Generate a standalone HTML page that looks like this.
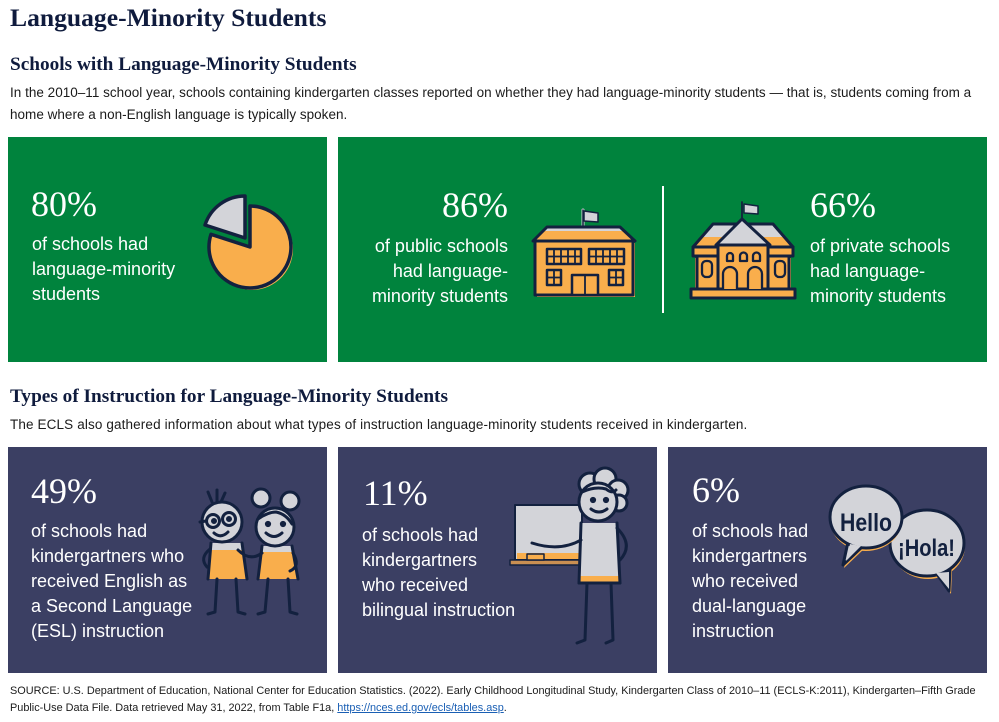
<!DOCTYPE html>
<html>
<head>
<meta charset="utf-8">
<style>
  html,body{margin:0;padding:0;background:#fff;}
  body{width:999px;height:722px;position:relative;overflow:hidden;font-family:"Liberation Sans",sans-serif;}
  .abs{position:absolute;white-space:nowrap;}
  .serif{font-family:"Liberation Serif",serif;}
  .h1{left:10px;top:5px;font-size:25.6px;line-height:25px;font-weight:bold;color:#0f1b3d;}
  .h2{left:10px;font-size:19.3px;line-height:19px;font-weight:bold;color:#0f1b3d;}
  .p{left:10px;font-size:13.5px;line-height:22px;color:#1b1b1b;}
  .box{position:absolute;}
  .green{background:#00833d;}
  .navy{background:#3b3f63;}
  .big{font-family:"Liberation Serif",serif;font-size:36px;line-height:40px;color:#fff;}
  .txt{font-size:18px;line-height:25px;color:#fff;}
  .foot{left:10px;font-size:10.9px;line-height:17px;color:#1b1b1b;}
  a{color:#1a5fb4;text-decoration:underline;}
</style>
</head>
<body>
<div class="abs serif h1">Language-Minority Students</div>
<div class="abs serif h2" style="top:55px;">Schools with Language-Minority Students</div>
<div class="abs p" style="top:82px;letter-spacing:0.02px;">In the 2010–11 school year, schools containing kindergarten classes reported on whether they had language-minority students — that is, students coming from a</div>
<div class="abs p" style="top:104px;letter-spacing:0.02px;">home where a non-English language is typically spoken.</div>

<div class="box green" style="left:8px;top:137px;width:319px;height:225px;"></div>
<div class="box green" style="left:338px;top:137px;width:649px;height:225px;"></div>

<div class="abs serif h2" style="top:387px;">Types of Instruction for Language-Minority Students</div>
<div class="abs p" style="top:414px;letter-spacing:0.13px;">The ECLS also gathered information about what types of instruction language-minority students received in kindergarten.</div>

<div class="box navy" style="left:8px;top:447px;width:319px;height:226px;"></div>
<div class="box navy" style="left:338px;top:447px;width:319px;height:226px;"></div>
<div class="box navy" style="left:668px;top:447px;width:319px;height:226px;"></div>

<svg class="abs" style="left:0;top:0;" width="999" height="722" viewBox="0 0 999 722" xmlns="http://www.w3.org/2000/svg">
  <g stroke-linejoin="round" stroke-linecap="round">
  <!-- Pie -->
  <path d="M252,249 L252,208 A41,41 0 1 1 213,236.3 Z" fill="#f9ae4c"/>
  <path d="M250,247 L250,206 A41,41 0 1 1 211,234.3 Z" fill="#f9ae4c" stroke="#13213f" stroke-width="3.5"/>
  <path d="M245,238 L245,196 A42,42 0 0 0 205,225 Z" fill="#d3d4d9" stroke="#13213f" stroke-width="3.5"/>

  <!-- Public school -->
  <line x1="583" y1="226" x2="583" y2="210" stroke="#d3d4d9" stroke-width="3"/>
  <line x1="583" y1="226" x2="583" y2="210" stroke="#13213f" stroke-width="1.5"/>
  <path d="M584,211 L598,213 L598,222 L584,221 Z" fill="#d3d4d9" stroke="#13213f" stroke-width="1.5"/>
  <path d="M547,227 L620,227 L635,241 L533,241 Z" fill="#f9ae4c"/>
  <path d="M547,227 L620,227 L624,231 L543,231 Z" fill="#d3d4d9"/>
  <path d="M547,227 L620,227 L635,241 L533,241 Z" fill="none" stroke="#13213f" stroke-width="3"/>
  <rect x="537" y="243" width="98" height="54" fill="#f9ae4c"/>
  <rect x="535" y="241" width="98" height="54" fill="#f9ae4c" stroke="#13213f" stroke-width="3"/>
  <g fill="#f9ae4c" stroke="#13213f" stroke-width="2.5">
    <rect x="547" y="249" width="34" height="15"/>
    <rect x="589" y="249" width="35" height="15"/>
    <rect x="547" y="270" width="14" height="15"/>
    <rect x="609" y="270" width="14" height="15"/>
    <rect x="572" y="275" width="26" height="20"/>
  </g>
  <g stroke="#13213f" stroke-width="1.8">
    <line x1="547" y1="256.5" x2="581" y2="256.5"/>
    <line x1="589" y1="256.5" x2="624" y2="256.5"/>
    <line x1="554" y1="249" x2="554" y2="264"/><line x1="561" y1="249" x2="561" y2="264"/><line x1="568" y1="249" x2="568" y2="264"/><line x1="575" y1="249" x2="575" y2="264"/>
    <line x1="596" y1="249" x2="596" y2="264"/><line x1="603" y1="249" x2="603" y2="264"/><line x1="610" y1="249" x2="610" y2="264"/><line x1="617" y1="249" x2="617" y2="264"/>
    <line x1="547" y1="277.5" x2="561" y2="277.5"/><line x1="554" y1="270" x2="554" y2="285"/>
    <line x1="609" y1="277.5" x2="623" y2="277.5"/><line x1="616" y1="270" x2="616" y2="285"/>
    <line x1="585" y1="275" x2="585" y2="295"/>
  </g>

  <!-- Divider -->
  <rect x="662" y="186" width="2" height="127" fill="#fff"/>

  <!-- Private school -->
  <line x1="742" y1="219" x2="742" y2="202" stroke="#13213f" stroke-width="1.8"/>
  <path d="M744,204 L758,206 L758,214 L744,213 Z" fill="#d3d4d9" stroke="#13213f" stroke-width="1.5"/>
  <path d="M713,224 L773,224 L793,247 L693,247 Z" fill="#f9ae4c"/>
  <path d="M713,224 L773,224 L784,237 L702,237 Z" fill="#d3d4d9"/>
  <path d="M713,224 L773,224 L793,247 L693,247 Z" fill="none" stroke="#13213f" stroke-width="3"/>
  <rect x="695" y="258" width="96" height="33" fill="#f9ae4c"/>
  <rect x="697" y="256" width="92" height="33" fill="#f9ae4c" stroke="#13213f" stroke-width="3"/>
  <rect x="693" y="247" width="100" height="9" fill="#f9ae4c" stroke="#13213f" stroke-width="3"/>
  <rect x="718" y="245" width="50" height="44" fill="#f9ae4c" stroke="#13213f" stroke-width="3"/>
  <path d="M742,219 L716,245 L770,245 Z" fill="#d3d4d9" stroke="#13213f" stroke-width="3"/>
  <rect x="691" y="289" width="104" height="9" fill="#f9ae4c" stroke="#13213f" stroke-width="3"/>
  <g fill="#f9ae4c" stroke="#13213f" stroke-width="2.3">
    <path d="M727,261 L727,256 A3,3 0 0 1 733,256 L733,261 Z"/>
    <path d="M740,261 L740,256 A3.5,3.5 0 0 1 747,256 L747,261 Z"/>
    <path d="M753,261 L753,256 A3.5,3.5 0 0 1 760,256 L760,261 Z"/>
    <path d="M723,289 L723,274 A7,7 0 0 1 737,274 L737,289"/>
    <path d="M748,289 L748,274 A7,7 0 0 1 762,274 L762,289"/>
    <rect x="702" y="261" width="10" height="16" rx="4"/>
    <rect x="775" y="261" width="10" height="16" rx="4"/>
  </g>

  <!-- Kids -->
  <g stroke="#13213f" stroke-width="3" fill="none">
    <!-- boy -->
    <line x1="212" y1="502" x2="208" y2="492"/>
    <line x1="217" y1="501" x2="217" y2="490"/>
    <line x1="221" y1="502" x2="225" y2="493"/>
    <path d="M211,543 L242,543 L247,579 L208,579 Z" fill="#f9ae4c" stroke="none"/>
    <path d="M211,543 L242,543 L243,550 L210,550 Z" fill="#d3d4d9" stroke="none"/>
    <line x1="211" y1="543" x2="208" y2="579"/>
    <line x1="242" y1="543" x2="247" y2="579"/>
    <circle cx="222" cy="522" r="20" fill="#d3d4d9"/>
    <circle cx="213" cy="521" r="6.5" fill="#d3d4d9"/>
    <circle cx="229" cy="519" r="6.5" fill="#d3d4d9"/>
    <circle cx="214" cy="521" r="1.5" fill="#13213f"/>
    <circle cx="229" cy="519" r="1.5" fill="#13213f"/>
    <path d="M214,533 Q221,539 228,532"/>
    <line x1="200" y1="522" x2="206" y2="521"/>
    <path d="M210,549 Q199,558 207,567"/>
    <path d="M217,579 L215,612 L208,614"/>
    <path d="M236,579 L238,612 L245,614"/>
    <!-- girl -->
    <circle cx="261" cy="498" r="9" fill="#d3d4d9"/>
    <circle cx="290" cy="501" r="9" fill="#d3d4d9"/>
    <path d="M262,546 L292,546 L298,579 L258,579 Z" fill="#f9ae4c" stroke="none"/>
    <path d="M262,546 L292,546 L293,552 L261,552 Z" fill="#d3d4d9" stroke="none"/>
    <line x1="262" y1="546" x2="258" y2="579"/>
    <line x1="292" y1="546" x2="298" y2="579"/>
    <circle cx="275" cy="527" r="19" fill="#d3d4d9"/>
    <path d="M258,519 Q268,512 276,512 Q286,514 292,524"/>
    <circle cx="268" cy="524" r="1.6" fill="#13213f"/>
    <circle cx="283" cy="524" r="1.6" fill="#13213f"/>
    <path d="M266,533 Q274,540 282,533"/>
    <path d="M262,553 Q250,562 238,550"/>
    <path d="M293,553 Q301,566 290,571"/>
    <path d="M268,579 L265,612 L258,614"/>
    <path d="M288,579 L290,612 L297,614"/>
  </g>

  <!-- Teacher -->
  <rect x="515" y="505" width="67" height="55" fill="#d3d4d9" stroke="#13213f" stroke-width="2"/>
  <rect x="517" y="553" width="63" height="6" fill="#f9ae4c"/>
  <rect x="510" y="560" width="72" height="5" fill="#c98f52" stroke="#13213f" stroke-width="1.5"/>
  <rect x="527" y="554" width="17" height="6" fill="#f9ae4c" stroke="#13213f" stroke-width="1.5"/>
  <g stroke="#13213f" stroke-width="3" fill="none">
    <path d="M581,523 L617,523 L620,583 L579,583 Z" fill="#d3d4d9" stroke="none"/>
    <rect x="579" y="576" width="41" height="7" fill="#f9ae4c" stroke="none"/>
    <line x1="581" y1="523" x2="579" y2="583"/>
    <line x1="617" y1="523" x2="620" y2="583"/>
    <line x1="579" y1="583" x2="620" y2="583"/>
    <circle cx="590" cy="484" r="11" fill="#d3d4d9"/>
    <circle cx="605" cy="479" r="11" fill="#d3d4d9"/>
    <circle cx="618" cy="490" r="10" fill="#d3d4d9"/>
    <circle cx="619" cy="503" r="8" fill="#d3d4d9"/>
    <circle cx="598" cy="502" r="19" fill="#d3d4d9"/>
    <path d="M582,492 Q595,486 606,489 Q612,494 616,490"/>
    <circle cx="593" cy="500" r="1.6" fill="#13213f"/>
    <circle cx="606" cy="500" r="1.6" fill="#13213f"/>
    <path d="M591,509 Q599,515 607,509"/>
    <path d="M581,540 Q560,552 532,543"/>
    <path d="M617,528 Q634,545 620,560"/>
    <path d="M587,583 L585,640 L577,643"/>
    <path d="M611,583 L613,640 L606,643"/>
  </g>

  <!-- Speech bubbles -->
  <!-- Hola -->
  <path d="M936,572 L951,594 L952,570 Z" fill="#f9ae4c"/>
  <ellipse cx="928" cy="546" rx="37" ry="33" fill="#f9ae4c"/>
  <path d="M934,570 L949,591 L950,568 Z" fill="#d3d4d9" stroke="#13213f" stroke-width="3"/>
  <ellipse cx="927" cy="543" rx="37" ry="33" fill="#d3d4d9" stroke="#13213f" stroke-width="3"/>
  <path d="M936,573 L949,589 L949,572 Z" fill="#d3d4d9"/>
  <!-- Hello -->
  <path d="M849,544 L844,568 L864,549 Z" fill="#f9ae4c"/>
  <ellipse cx="866" cy="520" rx="36" ry="31" fill="#f9ae4c"/>
  <path d="M848,542 L843,565 L863,546 Z" fill="#d3d4d9" stroke="#13213f" stroke-width="3"/>
  <ellipse cx="866" cy="517" rx="36" ry="31" fill="#d3d4d9" stroke="#13213f" stroke-width="3"/>
  <path d="M850,544 L846,561 L861,546 Z" fill="#d3d4d9"/>
  <text x="840" y="531" font-family="Liberation Sans, sans-serif" font-weight="bold" font-size="25" fill="#13213f" textLength="52" lengthAdjust="spacingAndGlyphs">Hello</text>
  <text x="898" y="556" font-family="Liberation Sans, sans-serif" font-weight="bold" font-size="24" fill="#13213f" textLength="57" lengthAdjust="spacingAndGlyphs">¡Hola!</text>
  </g>
</svg>

<!-- Box 1 text -->
<div class="abs big" style="left:31px;top:184px;">80%</div>
<div class="abs txt" style="left:32px;top:232px;">of schools had<br>language-minority<br>students</div>

<!-- Box 2 text -->
<div class="abs big" style="right:491px;top:185px;text-align:right;">86%</div>
<div class="abs txt" style="right:491px;top:234px;text-align:right;">of public schools<br>had language-<br>minority students</div>
<div class="abs big" style="left:810px;top:185px;">66%</div>
<div class="abs txt" style="left:810px;top:234px;">of private schools<br>had language-<br>minority students</div>

<!-- Bottom boxes text -->
<div class="abs big" style="left:31px;top:471px;">49%</div>
<div class="abs txt" style="left:31px;top:519px;">of schools had<br>kindergartners who<br>received English as<br>a Second Language<br>(ESL) instruction</div>

<div class="abs big" style="left:363px;top:473px;">11%</div>
<div class="abs txt" style="left:362px;top:523px;">of schools had<br>kindergartners<br>who received<br>bilingual instruction</div>

<div class="abs big" style="left:692px;top:470px;">6%</div>
<div class="abs txt" style="left:692px;top:519px;">of schools had<br>kindergartners<br>who received<br>dual-language<br>instruction</div>

<!-- Footer -->
<div class="abs foot" style="top:683px;">SOURCE: U.S. Department of Education, National Center for Education Statistics. (2022). Early Childhood Longitudinal Study, Kindergarten Class of 2010–11 (ECLS-K:2011), Kindergarten–Fifth Grade</div>
<div class="abs foot" style="top:700px;">Public-Use Data File. Data retrieved May 31, 2022, from Table F1a, <a>https://nces.ed.gov/ecls/tables.asp</a>.</div>
</body>
</html>
